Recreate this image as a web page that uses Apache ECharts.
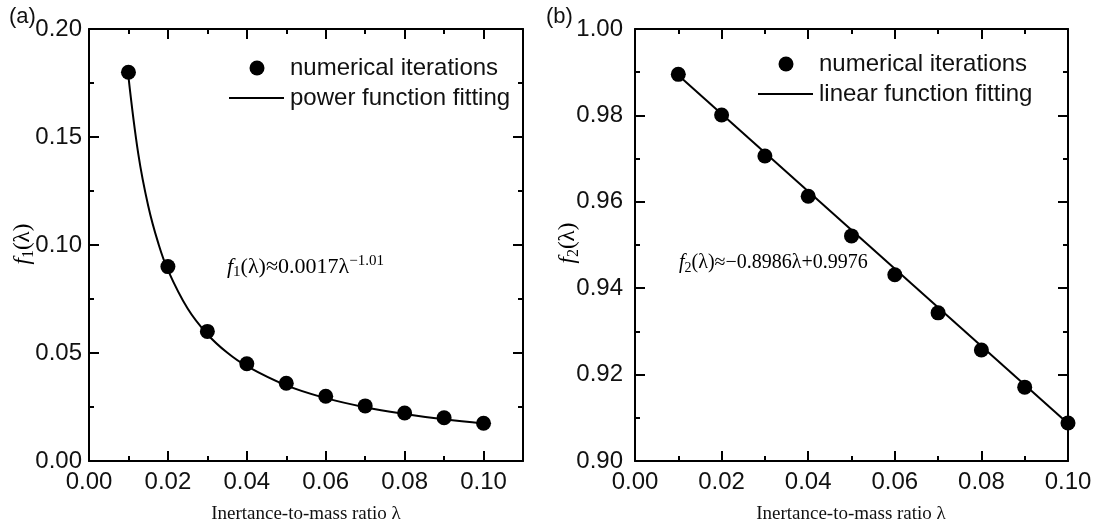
<!DOCTYPE html>
<html><head><meta charset="utf-8">
<script src="https://cdn.jsdelivr.net/npm/echarts@6/dist/echarts.min.js"></script>
<style>html,body{margin:0;padding:0;background:#fff}#c{width:1096px;height:529px}</style>
</head><body><div id="c"></div>
<script>
// Panel (a): numerical iterations of f1
const lambdaPts = [0.01,0.02,0.03,0.04,0.05,0.06,0.07,0.08,0.09,0.10];
const f1Pts = [0.180,0.090,0.060,0.045,0.036,0.030,0.0255,0.0222,0.0200,0.0175];
// Panel (a): power function fitting curve samples
const fitX1 = [0.01,0.0125,0.015,0.0175,0.02,0.025,0.03,0.035,0.04,0.05,0.06,0.07,0.08,0.09,0.10];
const fitY1 = [0.1780,0.1421,0.1182,0.1012,0.0884,0.0706,0.0587,0.0502,0.0439,0.0350,0.0291,0.0249,0.0218,0.0193,0.0174];
// Panel (b): numerical iterations of f2
const f2Pts = [0.9895,0.9801,0.9706,0.9613,0.9521,0.9431,0.9343,0.9257,0.9171,0.9088];
// Panel (b): linear function fitting endpoints
const fitX2 = [0.01,0.10];
const fitY2 = [0.9893,0.9087];
// Axis ticks
const xTicksA = {min:0, max:0.11, major:0.02, minor:0.01};
const xTicksB = {min:0, max:0.10, major:0.02, minor:0.01};
const yTicksA = {min:0, max:0.20, major:0.05, minor:0.025};
const yTicksB = {min:0.90, max:1.00, major:0.02, minor:0.01};

const SANS = 'Liberation Sans, Arial, sans-serif';
const SERIF = 'Liberation Serif, Times New Roman, serif';
const chart = echarts.init(document.getElementById('c'));

const grids = [
  {left:89, top:29, width:434, height:432},
  {left:635, top:29, width:433, height:432}
];

function xAxes(g, t) {
  const base = {type:'value', gridIndex:g, min:t.min, max:t.max, splitLine:{show:false}};
  return [
    Object.assign({}, base, {position:'bottom', interval:t.major,
      axisLine:{show:true, onZero:false, lineStyle:{color:'#000', width:2}},
      axisTick:{show:true, inside:true, length:10, lineStyle:{color:'#000', width:2}},
      axisLabel:{show:true, fontFamily:SANS, fontSize:24, color:'#111', margin:9,
        formatter:v => (Math.abs(Math.round(v/t.major)*t.major - v) < 1e-9 ? v.toFixed(2) : '')}}),
    Object.assign({}, base, {position:'bottom', interval:t.minor,
      axisLine:{show:false, onZero:false}, axisLabel:{show:false},
      axisTick:{show:true, inside:true, length:5, lineStyle:{color:'#000', width:2}}}),
    Object.assign({}, base, {position:'top', interval:t.major,
      axisLine:{show:true, onZero:false, lineStyle:{color:'#000', width:2}},
      axisTick:{show:true, inside:true, length:10, lineStyle:{color:'#000', width:2}},
      axisLabel:{show:false}}),
    Object.assign({}, base, {position:'top', interval:t.minor,
      axisLine:{show:false, onZero:false}, axisLabel:{show:false},
      axisTick:{show:true, inside:true, length:5, lineStyle:{color:'#000', width:2}}})
  ];
}
function yAxes(g, t, margin) {
  const base = {type:'value', gridIndex:g, min:t.min, max:t.max, splitLine:{show:false}};
  return [
    Object.assign({}, base, {position:'left', interval:t.major,
      axisLine:{show:true, onZero:false, lineStyle:{color:'#000', width:2}},
      axisTick:{show:true, inside:true, length:10, lineStyle:{color:'#000', width:2}},
      axisLabel:{show:true, fontFamily:SANS, fontSize:24, color:'#111', margin:margin,
        formatter:v => v.toFixed(2)}}),
    Object.assign({}, base, {position:'left', interval:t.minor,
      axisLine:{show:false, onZero:false}, axisLabel:{show:false},
      axisTick:{show:true, inside:true, length:5, lineStyle:{color:'#000', width:2}}}),
    Object.assign({}, base, {position:'right', interval:t.major,
      axisLine:{show:true, onZero:false, lineStyle:{color:'#000', width:2}},
      axisTick:{show:true, inside:true, length:10, lineStyle:{color:'#000', width:2}},
      axisLabel:{show:false}}),
    Object.assign({}, base, {position:'right', interval:t.minor,
      axisLine:{show:false, onZero:false}, axisLabel:{show:false},
      axisTick:{show:true, inside:true, length:5, lineStyle:{color:'#000', width:2}}})
  ];
}

const xAxisList = xAxes(0, xTicksA).concat(xAxes(1, xTicksB));
const yAxisList = yAxes(0, yTicksA, 7).concat(yAxes(1, yTicksB, 12));

const zip = (a, b) => a.map((v, i) => [v, b[i]]);

const series = [
  {type:'line', xAxisIndex:0, yAxisIndex:0, data:zip(fitX1, fitY1), smooth:0.4, symbol:'none',
    lineStyle:{color:'#000', width:2}, z:2},
  {type:'scatter', xAxisIndex:0, yAxisIndex:0, data:zip(lambdaPts, f1Pts), symbol:'circle', symbolSize:15,
    itemStyle:{color:'#000', opacity:1}, z:3},
  {type:'line', xAxisIndex:4, yAxisIndex:4, data:zip(fitX2, fitY2), symbol:'none',
    lineStyle:{color:'#000', width:2}, z:2},
  {type:'scatter', xAxisIndex:4, yAxisIndex:4, data:zip(lambdaPts, f2Pts), symbol:'circle', symbolSize:15,
    itemStyle:{color:'#000', opacity:1}, z:3}
];

function richSet(sz) {
  return {
    f:{fontFamily:SERIF, fontStyle:'italic', fontSize:sz, color:'#111'},
    t:{fontFamily:SERIF, fontSize:sz, color:'#111'},
    sub:{fontFamily:SERIF, fontSize:Math.round(sz*0.68), color:'#111', verticalAlign:'bottom', padding:[Math.round(sz*0.5),0,0,0]},
    sup:{fontFamily:SERIF, fontSize:Math.round(sz*0.68), color:'#111', verticalAlign:'top', padding:[0,0,Math.round(sz*0.5),0]}
  };
}

function legend(x, y, label2) {
  return [
    {type:'circle', shape:{cx:x+28, cy:y, r:7.5}, style:{fill:'#000'}},
    {type:'text', style:{x:x+61, y:y, text:'numerical iterations', fontFamily:SANS, fontSize:24, fill:'#111', verticalAlign:'middle'}},
    {type:'line', shape:{x1:x, y1:y+30, x2:x+55, y2:y+30}, style:{stroke:'#000', lineWidth:2}},
    {type:'text', style:{x:x+61, y:y+30, text:label2, fontFamily:SANS, fontSize:24, fill:'#111', verticalAlign:'middle'}}
  ];
}

const graphic = [
  {type:'text', style:{x:9, y:17, text:'(a)', fontFamily:SANS, fontSize:22, fill:'#111', verticalAlign:'middle'}},
  {type:'text', style:{x:546, y:17, text:'(b)', fontFamily:SANS, fontSize:22, fill:'#111', verticalAlign:'middle'}},
  {type:'text', style:{x:306, y:514, text:'Inertance-to-mass ratio λ', fontFamily:SERIF, fontSize:19, fill:'#111', align:'center', verticalAlign:'middle'}},
  {type:'text', style:{x:851, y:514, text:'Inertance-to-mass ratio λ', fontFamily:SERIF, fontSize:19, fill:'#111', align:'center', verticalAlign:'middle'}},
  {type:'text', x:23, y:244, rotation:Math.PI/2, style:{text:'{f|f}{sub|1}{t|(λ)}', rich:richSet(23), align:'center', verticalAlign:'middle'}},
  {type:'text', x:568, y:243, rotation:Math.PI/2, style:{text:'{f|f}{sub|2}{t|(λ)}', rich:richSet(23), align:'center', verticalAlign:'middle'}},
  {type:'text', x:227, y:267, style:{text:'{f|f}{sub|1}{t|(λ)≈0.0017λ}{sup|−1.01}', rich:richSet(22), verticalAlign:'middle'}},
  {type:'text', x:679, y:263, style:{text:'{f|f}{sub|2}{t|(λ)≈−0.8986λ+0.9976}', rich:richSet(20), verticalAlign:'middle'}}
].concat(legend(229, 68, 'power function fitting'), legend(758, 64, 'linear function fitting'));

chart.setOption({
  animation:false,
  backgroundColor:'#fff',
  grid:grids,
  xAxis:xAxisList,
  yAxis:yAxisList,
  series:series,
  graphic:graphic
});
</script></body></html>
